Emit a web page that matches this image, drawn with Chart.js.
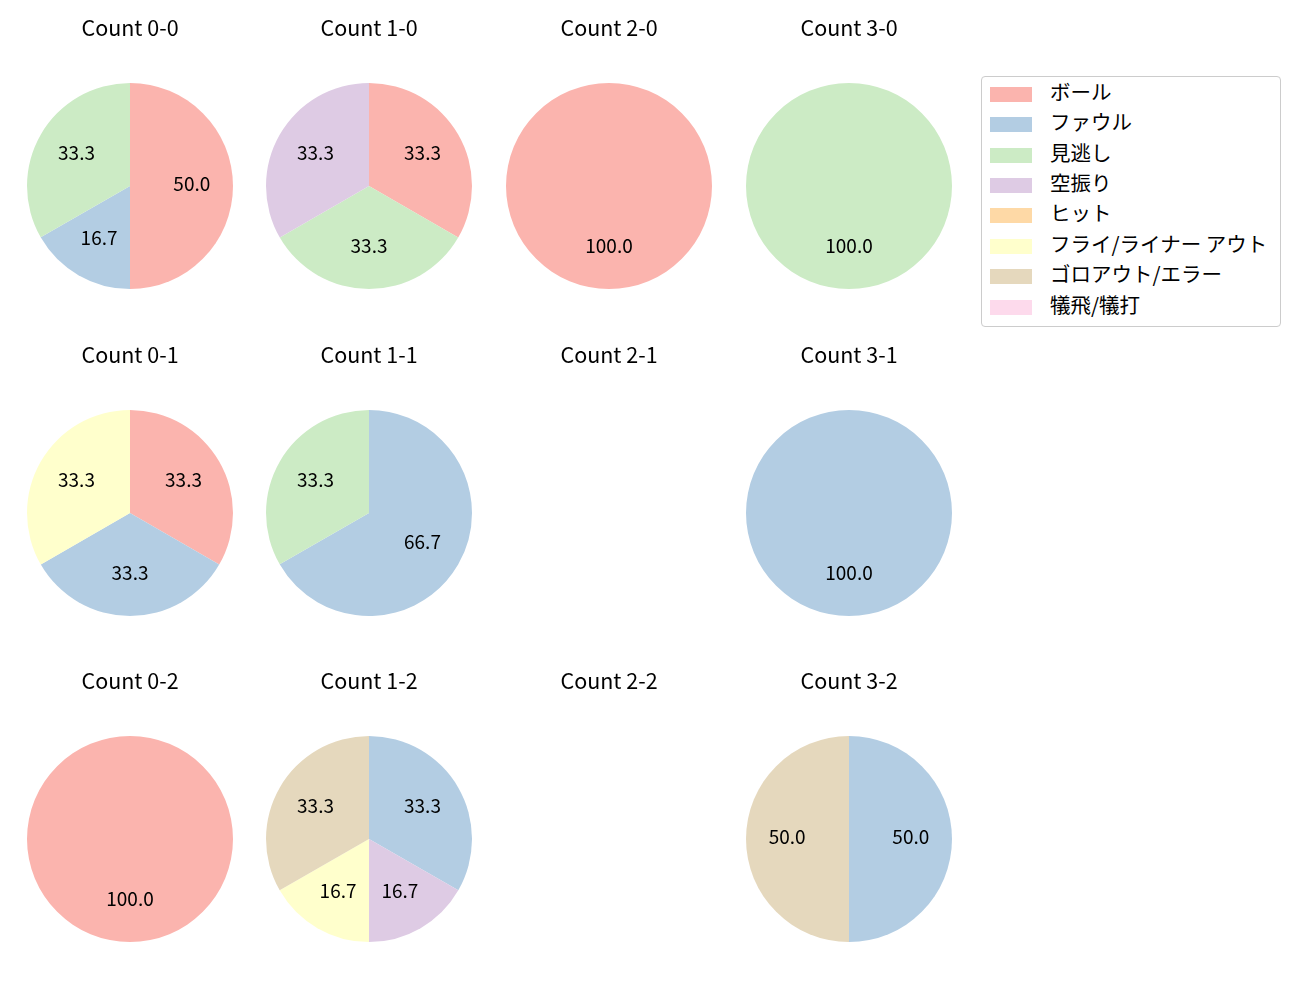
<!DOCTYPE html>
<html>
<head>
<meta charset="utf-8">
<script src="https://cdn.jsdelivr.net/npm/chart.js@4"></script>
<style>
  body { margin: 0; background: #fff; }
  #wrap { position: relative; width: 1300px; height: 1000px; font-family: "Noto Sans CJK JP", "Noto Sans", sans-serif; }
  .cell { position: absolute; width: 240px; height: 300px; }
  #legend { position: absolute; left: 981px; top: 76px; width: 298px; height: 249px;
            border: 1px solid #cccccc; border-radius: 4px; background: #fff; }
  .item { position: absolute; left: 0; height: 20px; font-size: 20.5px; color: #000; white-space: nowrap; }
  .sw { position: absolute; left: 8px; top: 3px; width: 42px; height: 15px; }
  .txt { position: absolute; left: 68px; top: -5px; line-height: 24px; }
</style>
</head>
<body>
<div id="wrap"><div id="legend"></div></div>
<script>
// 結果カテゴリ
const categories = ["ボール", "ファウル", "見逃し", "空振り", "ヒット", "フライ/ライナー アウト", "ゴロアウト/エラー", "犠飛/犠打"];
const colors = ["#fbb4ae", "#b3cde3", "#ccebc5", "#decbe4", "#fed9a6", "#ffffcc", "#e5d8bd", "#fddaec"];

// カウント別の割合 (%)
const count00 = [50.0, 16.7, 33.3, 0, 0, 0, 0, 0];
const count10 = [33.3, 0, 33.3, 33.3, 0, 0, 0, 0];
const count20 = [100.0, 0, 0, 0, 0, 0, 0, 0];
const count30 = [0, 0, 100.0, 0, 0, 0, 0, 0];
const count01 = [33.3, 33.3, 0, 0, 0, 33.3, 0, 0];
const count11 = [0, 66.7, 33.3, 0, 0, 0, 0, 0];
const count21 = [0, 0, 0, 0, 0, 0, 0, 0];
const count31 = [0, 100.0, 0, 0, 0, 0, 0, 0];
const count02 = [100.0, 0, 0, 0, 0, 0, 0, 0];
const count12 = [0, 33.3, 0, 16.7, 0, 16.7, 33.3, 0];
const count22 = [0, 0, 0, 0, 0, 0, 0, 0];
const count32 = [0, 50.0, 0, 0, 0, 0, 50.0, 0];

const countNames = ["0-0", "1-0", "2-0", "3-0", "0-1", "1-1", "2-1", "3-1", "0-2", "1-2", "2-2", "3-2"];
const countValues = [count00, count10, count20, count30, count01, count11, count21, count31, count02, count12, count22, count32];

const colCenters = [130, 369, 609, 849];
const rowTops = [0, 327, 653];
const FONT = '"Noto Sans CJK JP", "Noto Sans", sans-serif';

// 割合ラベルを半径0.6の位置に描く
const pctLabels = {
  id: "pctLabels",
  afterDatasetsDraw(chart) {
    const ctx = chart.ctx;
    const meta = chart.getDatasetMeta(0);
    const vals = chart.data.datasets[0].data;
    ctx.save();
    ctx.font = "19px " + FONT;
    ctx.fillStyle = "#000";
    ctx.textAlign = "center";
    ctx.textBaseline = "middle";
    meta.data.forEach((arc, i) => {
      if (!vals[i]) return;
      const p = arc.getProps(["x", "y", "startAngle", "endAngle", "outerRadius"], true);
      const mid = (p.startAngle + p.endAngle) / 2;
      const r = p.outerRadius * 0.6;
      ctx.fillText(vals[i].toFixed(1), p.x + Math.cos(mid) * r, p.y + Math.sin(mid) * r - 2);
    });
    ctx.restore();
  }
};

const wrap = document.getElementById("wrap");
countNames.forEach((name, k) => {
  const div = document.createElement("div");
  div.className = "cell";
  div.style.left = (colCenters[k % 4] - 120) + "px";
  div.style.top = rowTops[Math.floor(k / 4)] + "px";
  const canvas = document.createElement("canvas");
  canvas.width = 240;
  canvas.height = 300;
  div.appendChild(canvas);
  wrap.appendChild(div);

  new Chart(canvas.getContext("2d"), {
    type: "pie",
    data: {
      labels: categories,
      datasets: [{
        data: countValues[k],
        backgroundColor: colors,
        borderWidth: 0
      }]
    },
    options: {
      responsive: false,
      animation: false,
      layout: { padding: { left: 17, right: 17, top: 0, bottom: 11 } },
      plugins: {
        legend: { display: false },
        tooltip: { enabled: false },
        title: {
          display: true,
          text: "Count " + name,
          color: "#000",
          font: { family: FONT, size: 21.5, weight: "normal", lineHeight: 1.2 },
          padding: { top: 15.1, bottom: 42.1 }
        }
      }
    },
    plugins: [pctLabels]
  });
});

// 凡例
const legend = document.getElementById("legend");
categories.forEach((c, i) => {
  const item = document.createElement("div");
  item.className = "item";
  item.style.top = (16.7 - 10 + i * 30.4) + "px";
  item.innerHTML = '<div class="sw" style="background:' + colors[i] + '"></div><div class="txt">' + c + '</div>';
  legend.appendChild(item);
});
</script>
</body>
</html>
